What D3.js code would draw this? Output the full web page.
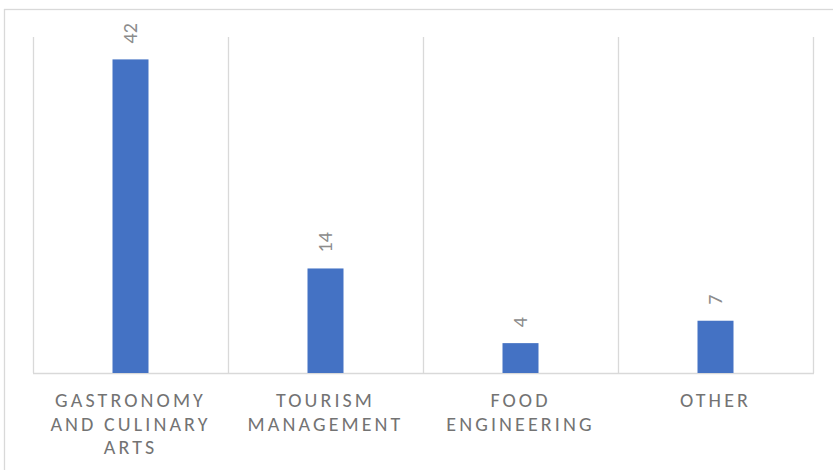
<!DOCTYPE html>
<html>
<head>
<meta charset="utf-8">
<script src="https://cdn.jsdelivr.net/npm/d3@7"></script>
<style>
  html, body { margin: 0; padding: 0; background: #fff; }
  svg { display: block; }
</style>
</head>
<body>
<svg id="chart" width="833" height="470"></svg>
<script>
// Students by field of study
const categories = [
  ["GASTRONOMY", "AND CULINARY", "ARTS"],
  ["TOURISM", "MANAGEMENT"],
  ["FOOD", "ENGINEERING"],
  ["OTHER"]
];
const values = [42, 14, 4, 7];
const yDomain = [0, 45];

const W = 833, H = 470;
const plot = { left: 33, right: 813, top: 37, bottom: 373 };
const font = "Carlito, Lato, 'Open Sans', sans-serif";

const svg = d3.select("#chart");

// chart frame
svg.append("rect")
  .attr("x", 4.5).attr("y", 9.5)
  .attr("width", W + 20).attr("height", H + 20)
  .attr("fill", "none")
  .attr("stroke", "#d9d9d9")
  .attr("stroke-width", 1.3);

const keys = categories.map((c, i) => String(i));
const x = d3.scaleBand().domain(keys).range([plot.left, plot.right]).paddingInner(0).paddingOuter(0);
const y = d3.scaleLinear().domain(yDomain).range([plot.bottom, plot.top]);

// vertical separators between categories
const bounds = keys.map(k => x(k)).concat([x(keys[keys.length - 1]) + x.bandwidth()]);
svg.append("g").selectAll("line").data(bounds).join("line")
  .attr("x1", d => d + 0.5).attr("x2", d => d + 0.5)
  .attr("y1", plot.top).attr("y2", plot.bottom)
  .attr("stroke", "#d9d9d9").attr("stroke-width", 1.3);

// baseline
svg.append("line")
  .attr("x1", plot.left).attr("x2", plot.right + 1)
  .attr("y1", plot.bottom + 0.5).attr("y2", plot.bottom + 0.5)
  .attr("stroke", "#d9d9d9").attr("stroke-width", 1.3);

const barW = 36;
svg.append("g").selectAll("rect").data(values).join("rect")
  .attr("x", (d, i) => x(keys[i]) + x.bandwidth() / 2 - barW / 2)
  .attr("y", d => y(d))
  .attr("width", barW)
  .attr("height", d => y(0) - y(d))
  .attr("fill", "#4472c4");

// value labels, rotated
svg.append("g").selectAll("text").data(values).join("text")
  .attr("transform", (d, i) => `translate(${x(keys[i]) + x.bandwidth() / 2 + 6.5},${y(d) - 16}) rotate(-90)`)
  .attr("font-family", font)
  .attr("font-size", 20)
  .attr("fill", "#8c8c8c")
  .text(d => d);

// category labels
const catG = svg.append("g");
categories.forEach((lines, i) => {
  const cx = x(keys[i]) + x.bandwidth() / 2;
  const t = catG.append("text")
    .attr("font-family", font)
    .attr("font-size", 20)
    .attr("fill", "#737373")
    .attr("letter-spacing", "3.1px")
    .attr("text-anchor", "middle");
  lines.forEach((ln, j) => {
    t.append("tspan")
      .attr("x", cx)
      .attr("y", 407 + j * 23.6)
      .text(ln);
  });
});
</script>
</body>
</html>
